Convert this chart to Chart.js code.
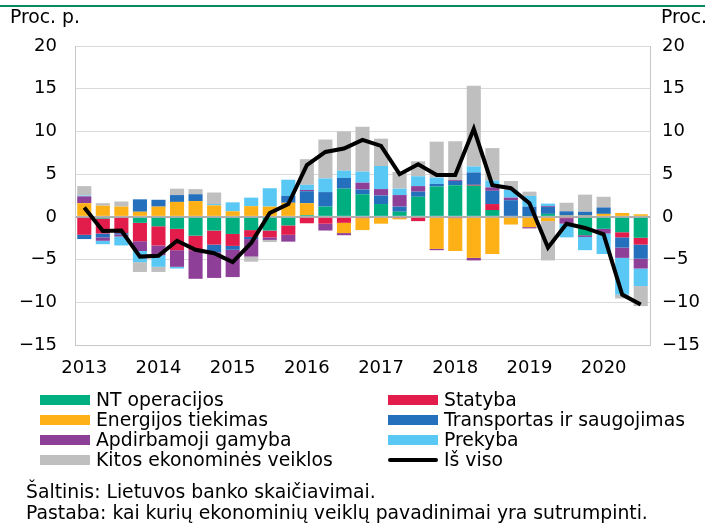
<!DOCTYPE html>
<html>
<head>
<meta charset="utf-8">
<script src="https://cdn.jsdelivr.net/npm/chart.js@4.4.0/dist/chart.umd.min.js"></script>
<style>
  body { margin: 0; background: #fff; font-family: "DejaVu Sans", sans-serif; color: #000; }
  #wrap { position: relative; width: 705px; height: 523px; overflow: hidden; }
  canvas { position: absolute; left: 0; top: 0; }
  .topline { position: absolute; left: 0; top: 5px; width: 705px; height: 2px; background: #0b8a62; }
  .txt { position: absolute; font-size: 18.8px; line-height: 20px; white-space: nowrap; }
  .sw { position: absolute; width: 50px; height: 10px; }
</style>
</head>
<body>
<div id="wrap">
  <canvas id="myChart" width="705" height="523"></canvas>
  <div class="topline"></div>
  <div class="txt" style="left:10px; top:7px;">Proc. p.</div>
  <div class="txt" style="left:661px; top:7px;">Proc.</div>
  <div id="legend"></div>
  <div class="txt" style="left:26px; top:482px;">Šaltinis: Lietuvos banko skaičiavimai.</div>
  <div class="txt" style="left:26px; top:503px;">Pastaba: kai kurių ekonominių veiklų pavadinimai yra sutrumpinti.</div>
</div>
<script>
// DUOMENYS
const quarters = [
  "2013 I", "2013 II", "2013 III", "2013 IV",
  "2014 I", "2014 II", "2014 III", "2014 IV",
  "2015 I", "2015 II", "2015 III", "2015 IV",
  "2016 I", "2016 II", "2016 III", "2016 IV",
  "2017 I", "2017 II", "2017 III", "2017 IV",
  "2018 I", "2018 II", "2018 III", "2018 IV",
  "2019 I", "2019 II", "2019 III", "2019 IV",
  "2020 I", "2020 II", "2020 III"
];
const yearTicks = ["2013", "2014", "2015", "2016", "2017", "2018", "2019", "2020"];
const yTicks = [-15, -10, -5, 0, 5, 10, 15, 20];

const ntOperacijos = [0, -0.2, 0, -0.7, -1.1, -1.4, -2.2, -1.6, -2.0, -1.55, -1.6, -1.0, 0.2, 1.2, 3.3, 2.65,
  1.5, 0.6, 2.35, 3.55, 3.7, 3.65, 0.8, 0, 0.1, 0.35, 0, -2.15, -1.4, -1.8, -2.45];
const statyba = [-2.1, -1.75, -1.9, -2.15, -2.25, -2.5, -1.7, -1.65, -1.4, -0.8, -0.8, -1.1, -0.75, -0.8, -0.7, -0.15,
  0, -0.15, -0.5, 0, -0.15, 0.1, 0.7, 0, 0, 0, -0.15, 0, 0, -0.6, -0.8];
const energijos = [1.6, 1.3, 1.2, 0.6, 1.2, 1.75, 1.85, 1.35, 0.65, 1.25, 1.2, 1.65, 1.4, 0, -1.2, -1.4,
  -0.8, -0.15, 0, -3.75, -3.85, -4.8, -4.35, -0.9, -1.2, -0.5, 0.15, 0.15, 0.35, 0.45, 0.3];
const transportas = [-0.5, -0.45, -0.15, 1.45, 0.8, 0.8, 0.8, -0.9, -0.45, -0.25, 0, 0.8, 1.4, 1.7, 1.25, 0.55,
  1.0, 0.6, 0.6, 0.3, 0.5, 1.45, 1.55, 1.95, 1.1, 0.8, 0.5, 0.45, 0.75, -1.2, -1.65];
const apdirbamoji = [0.8, -0.4, -0.25, -1.15, -1.15, -1.95, -3.35, -3.0, -3.2, -2.05, -0.3, -0.8, 0.15, -0.8, -0.25, 0.8,
  0.75, 1.35, 0.65, -0.15, 0.1, -0.3, 0.4, 0.3, -0.15, 0.1, -0.65, -0.2, -0.55, -1.2, -1.15];
const prekyba = [0.1, -0.4, -1.05, -1.3, -1.35, -0.2, 0, 0.15, 1.05, 1.0, 2.15, 1.9, 0.6, 1.6, 0.85, 1.3,
  2.7, 0.75, 1.15, 0.75, 0, 0.7, 0.8, 0.9, 1.25, 0.3, -1.6, -1.55, -2.4, -4.3, -2.05];
const kitos = [1.1, 0.3, 0.6, -1.15, -0.6, 0.75, 0.6, 1.35, 0, -0.6, -0.25, 0, 3.0, 4.55, 4.6, 5.25,
  3.2, 1.95, 1.75, 4.2, 4.55, 9.45, 3.8, 1.05, 0.5, -4.6, 1.0, 2.0, 1.25, -0.45, -2.35];
const isViso = [1.1, -1.65, -1.6, -4.65, -4.55, -2.8, -3.85, -4.25, -5.3, -3.05, 0.45, 1.5, 6.05, 7.6, 8.0, 9.0,
  8.3, 5.0, 6.15, 4.9, 4.9, 10.3, 3.7, 3.35, 1.6, -3.6, -0.8, -1.3, -2.05, -9.1, -10.25];

const FONT = { family: "DejaVu Sans", size: 18 };
const minus = (v) => (v < 0 ? "\u2212" + Math.abs(v) : String(v));

function bar(label, data, color) {
  return { type: "bar", label: label, data: data, backgroundColor: color, borderWidth: 0, stack: "bars", order: 1 };
}

const datasets = [
  bar("NT operacijos", ntOperacijos, "#00af80"),
  bar("Statyba", statyba, "#e31d4b"),
  bar("Energijos tiekimas", energijos, "#fdb117"),
  bar("Transportas ir saugojimas", transportas, "#2470bc"),
  bar("Apdirbamoji gamyba", apdirbamoji, "#8e3f98"),
  bar("Prekyba", prekyba, "#5ac8f5"),
  bar("Kitos ekonominės veiklos", kitos, "#bfbfbf"),
  {
    type: "line",
    label: "Iš viso",
    data: isViso,
    borderColor: "#000",
    borderWidth: 4,
    pointRadius: 0,
    tension: 0,
    stack: "total",
    order: 0,
  },
];

new Chart(document.getElementById("myChart"), {
  type: "bar",
  data: { labels: quarters, datasets: datasets },
  options: {
    responsive: false,
    animation: false,
    devicePixelRatio: 1,
    layout: { padding: { left: 0, right: 0, top: 46, bottom: 143 } },
    datasets: { bar: { categoryPercentage: 1, barPercentage: 0.76 } },
    plugins: { legend: { display: false }, tooltip: { enabled: false } },
    scales: {
      x: {
        stacked: true,
        grid: { display: false },
        border: { display: true, color: "#c8c8c8" },
        ticks: {
          color: "#000",
          font: FONT,
          padding: 5,
          autoSkip: false,
          maxRotation: 0,
          callback: (v, i) => (i % 4 === 0 ? yearTicks[i / 4] : ""),
        },
        afterFit: (s) => { s.height = 35; },
      },
      y: {
        stacked: true,
        position: "left",
        min: -15,
        max: 20,
        afterBuildTicks: (s) => { s.ticks = yTicks.map((v) => ({ value: v })); },
        grid: {
          drawTicks: false,
          color: (c) => (c.tick && c.tick.value === 0 ? "#b0b0b0" : "#d9d9d9"),
          lineWidth: (c) => (c.tick && c.tick.value === 0 ? 2 : 1),
        },
        border: { display: true, color: "#c8c8c8" },
        ticks: { color: "#000", font: FONT, padding: 18, callback: minus },
        afterFit: (s) => { s.width = 75; },
      },
      y2: {
        position: "right",
        min: -15,
        max: 20,
        afterBuildTicks: (s) => { s.ticks = yTicks.map((v) => ({ value: v })); },
        grid: { display: false, drawTicks: false },
        border: { display: true, color: "#c8c8c8" },
        ticks: { color: "#000", font: FONT, padding: 12, callback: minus },
        afterFit: (s) => { s.width = 55; },
      },
    },
  },
});

// LEYENDA (dos columnas)
const legend = document.getElementById("legend");
const colX = [40, 388];
const rowY = [400, 420, 440, 460];
datasets.forEach((ds, i) => {
  const x = colX[i % 2];
  const y = rowY[Math.floor(i / 2)];
  const sw = document.createElement("div");
  sw.className = "sw";
  if (ds.type === "line") {
    sw.style.cssText = `left:${x}px; top:${y - 2}px; height:4px; border-radius:2px; background:#000;`;
  } else {
    sw.style.cssText = `left:${x}px; top:${y - 5}px; background:${ds.backgroundColor};`;
  }
  legend.appendChild(sw);
  const t = document.createElement("div");
  t.className = "txt";
  t.style.left = x + 56 + "px";
  t.style.top = y - 10 + "px";
  t.textContent = ds.label;
  legend.appendChild(t);
});
</script>
</body>
</html>
